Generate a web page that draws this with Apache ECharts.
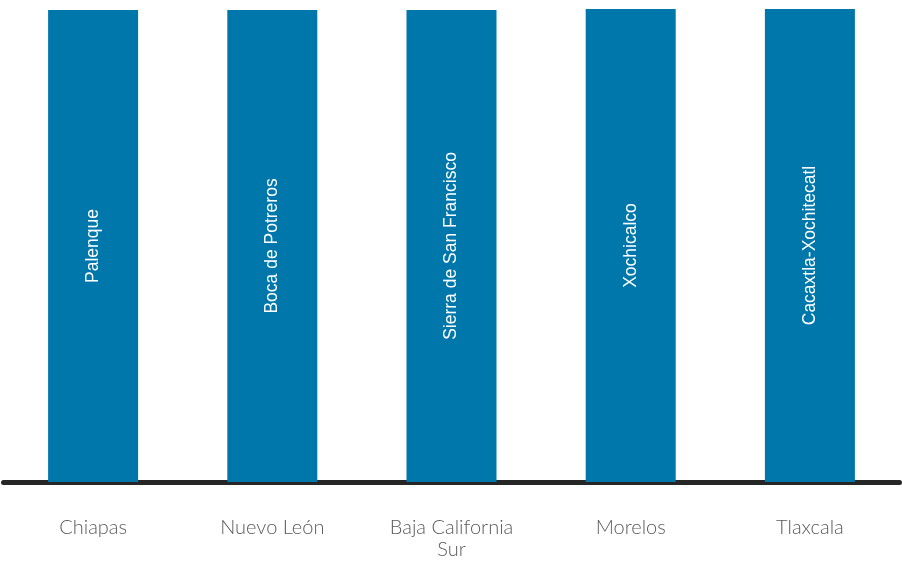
<!DOCTYPE html>
<html>
<head>
<meta charset="utf-8">
<script src="https://cdn.jsdelivr.net/npm/echarts@6/dist/echarts.min.js"></script>
<style>
html,body{margin:0;padding:0;background:#fff;}
#chart{width:902px;height:562px;}
</style>
</head>
<body>
<div id="chart"></div>
<script>
const states = ["Chiapas", "Nuevo León", "Baja California\nSur", "Morelos", "Tlaxcala"];
const sites = ["Palenque", "Boca de Potreros", "Sierra de San Francisco", "Xochicalco", "Cacaxtla-Xochitecatl"];
const values = [99.8, 99.8, 99.8, 100, 100];

const chart = echarts.init(document.getElementById('chart'));
chart.setOption({
  animation: false,
  grid: { left: 3.5, right: 2.5, top: 9, bottom: 80 },
  xAxis: {
    type: 'category',
    data: states,
    axisLine: { show: true, lineStyle: { color: '#262626', width: 5 } },
    axisTick: { show: false },
    axisLabel: {
      margin: 34.5,
      color: '#5a5a5a',
      fontFamily: 'Lato',
      fontWeight: 300,
      fontSize: 20,
      lineHeight: 22
    }
  },
  yAxis: {
    type: 'value',
    min: 0,
    max: 100,
    show: false,
    splitLine: { show: false }
  },
  series: [{
    type: 'bar',
    data: values.map((v, i) => ({ value: v, name: sites[i] })),
    barWidth: 90,
    itemStyle: { color: '#0077ab' },
    label: {
      show: true,
      position: 'inside',
      rotate: 90,
      formatter: p => sites[p.dataIndex],
      color: '#ffffff',
      fontFamily: 'Liberation Sans',
      fontSize: 17.5
    }
  }]
});
</script>
</body>
</html>
